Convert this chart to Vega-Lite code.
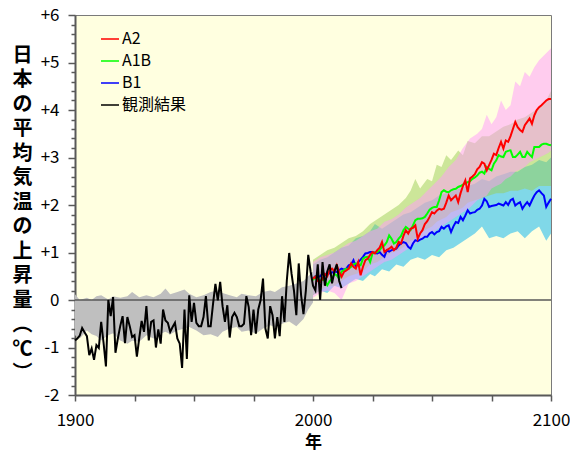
{
  "$schema": "https://vega.github.io/schema/vega-lite/v6.json",
  "width": 476,
  "height": 380,
  "autosize": "none",
  "padding": {"left": 75, "top": 15, "right": 19, "bottom": 59},
  "background": "white",
  "resolve": {"axis": {"y": "independent"}},
  "config": {
    "view": {"fill": "#ffffe0", "stroke": "#7a7a7a", "strokeWidth": 1},
    "axis": {"grid": false, "labelOverlap": false, "labelFlush": false, "domainColor": "#595959", "domainWidth": 2, "tickColor": "#595959", "tickWidth": 1.5, "labelColor": "#000000", "labelFont": "Noto Sans CJK JP", "labelFontSize": 17, "titleColor": "#000000", "titleFont": "Noto Sans CJK JP"}
  },
  "datasets": {
    "gray": [
      {"year": 1900, "lo": -0.74, "hi": 0.12}, {"year": 1902, "lo": -0.81, "hi": 0.0}, {"year": 1905, "lo": -0.64, "hi": 0.05},
      {"year": 1907, "lo": -0.72, "hi": 0.0}, {"year": 1909, "lo": -0.76, "hi": 0.08}, {"year": 1911, "lo": -0.85, "hi": 0.1},
      {"year": 1914, "lo": -0.74, "hi": 0.01}, {"year": 1916, "lo": -0.7, "hi": 0.08}, {"year": 1919, "lo": -0.85, "hi": 0.05},
      {"year": 1922, "lo": -0.92, "hi": 0.08}, {"year": 1924, "lo": -0.86, "hi": 0.17}, {"year": 1927, "lo": -0.88, "hi": 0.06},
      {"year": 1930, "lo": -0.74, "hi": 0.1}, {"year": 1933, "lo": -0.81, "hi": 0.06}, {"year": 1936, "lo": -0.71, "hi": 0.13},
      {"year": 1938, "lo": -0.67, "hi": 0.24}, {"year": 1940, "lo": -0.72, "hi": 0.12}, {"year": 1943, "lo": -0.64, "hi": 0.17},
      {"year": 1946, "lo": -0.6, "hi": 0.22}, {"year": 1948, "lo": -0.57, "hi": 0.13}, {"year": 1951, "lo": -0.64, "hi": 0.06},
      {"year": 1954, "lo": -0.74, "hi": 0.1}, {"year": 1957, "lo": -0.72, "hi": 0.17}, {"year": 1960, "lo": -0.78, "hi": 0.2},
      {"year": 1962, "lo": -0.67, "hi": 0.15}, {"year": 1965, "lo": -0.6, "hi": 0.1}, {"year": 1968, "lo": -0.57, "hi": 0.06},
      {"year": 1970, "lo": -0.67, "hi": 0.13}, {"year": 1973, "lo": -0.64, "hi": 0.1}, {"year": 1976, "lo": -0.71, "hi": 0.08},
      {"year": 1979, "lo": -0.6, "hi": 0.17}, {"year": 1982, "lo": -0.53, "hi": 0.2}, {"year": 1984, "lo": -0.57, "hi": 0.17},
      {"year": 1987, "lo": -0.5, "hi": 0.27}, {"year": 1990, "lo": -0.45, "hi": 0.3}, {"year": 1993, "lo": -0.55, "hi": 0.35},
      {"year": 1996, "lo": -0.4, "hi": 0.4}, {"year": 1998, "lo": -0.2, "hi": 0.5}, {"year": 2000, "lo": -0.05, "hi": 0.6}
    ],
    "bands": [
      {"s": "B1", "year": 2000, "lo": 0.1, "hi": 0.75}, {"s": "B1", "year": 2003, "lo": 0.2, "hi": 0.85}, {"s": "B1", "year": 2006, "lo": 0.15, "hi": 0.9},
      {"s": "B1", "year": 2009, "lo": 0.3, "hi": 1.0}, {"s": "B1", "year": 2012, "lo": 0.25, "hi": 1.1}, {"s": "B1", "year": 2015, "lo": 0.35, "hi": 1.15},
      {"s": "B1", "year": 2018, "lo": 0.45, "hi": 1.3}, {"s": "B1", "year": 2021, "lo": 0.4, "hi": 1.35}, {"s": "B1", "year": 2024, "lo": 0.55, "hi": 1.45},
      {"s": "B1", "year": 2026, "lo": 0.5, "hi": 1.6}, {"s": "B1", "year": 2029, "lo": 0.65, "hi": 1.5}, {"s": "B1", "year": 2032, "lo": 0.6, "hi": 1.6},
      {"s": "B1", "year": 2035, "lo": 0.75, "hi": 1.7}, {"s": "B1", "year": 2038, "lo": 0.7, "hi": 1.8}, {"s": "B1", "year": 2041, "lo": 0.85, "hi": 1.85},
      {"s": "B1", "year": 2044, "lo": 0.9, "hi": 1.95}, {"s": "B1", "year": 2047, "lo": 0.85, "hi": 2.05}, {"s": "B1", "year": 2050, "lo": 0.95, "hi": 2.1},
      {"s": "B1", "year": 2053, "lo": 0.9, "hi": 2.2}, {"s": "B1", "year": 2056, "lo": 1.05, "hi": 2.25}, {"s": "B1", "year": 2059, "lo": 1.1, "hi": 2.3},
      {"s": "B1", "year": 2062, "lo": 1.2, "hi": 2.35}, {"s": "B1", "year": 2065, "lo": 1.3, "hi": 2.4}, {"s": "B1", "year": 2068, "lo": 1.4, "hi": 2.45},
      {"s": "B1", "year": 2071, "lo": 1.55, "hi": 2.55}, {"s": "B1", "year": 2074, "lo": 1.3, "hi": 2.5}, {"s": "B1", "year": 2077, "lo": 1.35, "hi": 2.6},
      {"s": "B1", "year": 2080, "lo": 1.3, "hi": 2.65}, {"s": "B1", "year": 2083, "lo": 1.4, "hi": 2.7}, {"s": "B1", "year": 2086, "lo": 1.45, "hi": 2.7},
      {"s": "B1", "year": 2089, "lo": 1.3, "hi": 2.8}, {"s": "B1", "year": 2092, "lo": 1.45, "hi": 2.85}, {"s": "B1", "year": 2095, "lo": 1.55, "hi": 2.95},
      {"s": "B1", "year": 2098, "lo": 1.25, "hi": 2.9}, {"s": "B1", "year": 2100, "lo": 1.4, "hi": 3.0},
      {"s": "A1B", "year": 2000, "lo": 0.1, "hi": 0.85}, {"s": "A1B", "year": 2003, "lo": 0.2, "hi": 0.95}, {"s": "A1B", "year": 2006, "lo": 0.3, "hi": 1.05},
      {"s": "A1B", "year": 2009, "lo": 0.3, "hi": 1.1}, {"s": "A1B", "year": 2012, "lo": 0.4, "hi": 1.2}, {"s": "A1B", "year": 2015, "lo": 0.5, "hi": 1.3},
      {"s": "A1B", "year": 2018, "lo": 0.55, "hi": 1.35}, {"s": "A1B", "year": 2021, "lo": 0.6, "hi": 1.45}, {"s": "A1B", "year": 2024, "lo": 0.75, "hi": 1.6},
      {"s": "A1B", "year": 2027, "lo": 0.8, "hi": 1.7}, {"s": "A1B", "year": 2030, "lo": 0.9, "hi": 1.8}, {"s": "A1B", "year": 2033, "lo": 1.0, "hi": 1.9},
      {"s": "A1B", "year": 2036, "lo": 1.05, "hi": 2.0}, {"s": "A1B", "year": 2039, "lo": 1.15, "hi": 2.15}, {"s": "A1B", "year": 2041, "lo": 1.25, "hi": 2.3},
      {"s": "A1B", "year": 2043, "lo": 1.3, "hi": 2.55}, {"s": "A1B", "year": 2045, "lo": 1.4, "hi": 2.35}, {"s": "A1B", "year": 2048, "lo": 1.5, "hi": 2.55},
      {"s": "A1B", "year": 2050, "lo": 1.55, "hi": 2.5}, {"s": "A1B", "year": 2052, "lo": 1.65, "hi": 2.85}, {"s": "A1B", "year": 2054, "lo": 1.7, "hi": 2.8},
      {"s": "A1B", "year": 2056, "lo": 1.75, "hi": 3.05}, {"s": "A1B", "year": 2058, "lo": 1.85, "hi": 2.95}, {"s": "A1B", "year": 2061, "lo": 1.9, "hi": 3.15},
      {"s": "A1B", "year": 2063, "lo": 1.95, "hi": 3.05}, {"s": "A1B", "year": 2065, "lo": 2.05, "hi": 3.35}, {"s": "A1B", "year": 2068, "lo": 2.1, "hi": 3.3},
      {"s": "A1B", "year": 2071, "lo": 2.15, "hi": 3.45}, {"s": "A1B", "year": 2074, "lo": 2.2, "hi": 3.45}, {"s": "A1B", "year": 2077, "lo": 2.25, "hi": 3.55},
      {"s": "A1B", "year": 2080, "lo": 2.25, "hi": 3.65}, {"s": "A1B", "year": 2083, "lo": 2.3, "hi": 3.7}, {"s": "A1B", "year": 2086, "lo": 2.3, "hi": 3.8},
      {"s": "A1B", "year": 2089, "lo": 2.35, "hi": 3.85}, {"s": "A1B", "year": 2092, "lo": 2.3, "hi": 3.95}, {"s": "A1B", "year": 2095, "lo": 2.4, "hi": 4.05},
      {"s": "A1B", "year": 2098, "lo": 2.4, "hi": 4.2}, {"s": "A1B", "year": 2100, "lo": 2.4, "hi": 4.4},
      {"s": "A2", "year": 2000, "lo": 0.05, "hi": 0.8}, {"s": "A2", "year": 2003, "lo": 0.15, "hi": 0.9}, {"s": "A2", "year": 2006, "lo": 0.2, "hi": 0.95},
      {"s": "A2", "year": 2009, "lo": 0.15, "hi": 1.0}, {"s": "A2", "year": 2012, "lo": 0.0, "hi": 1.1}, {"s": "A2", "year": 2015, "lo": 0.35, "hi": 1.2},
      {"s": "A2", "year": 2018, "lo": 0.4, "hi": 1.25}, {"s": "A2", "year": 2021, "lo": 0.5, "hi": 1.35}, {"s": "A2", "year": 2024, "lo": 0.6, "hi": 1.45},
      {"s": "A2", "year": 2027, "lo": 0.7, "hi": 1.5}, {"s": "A2", "year": 2030, "lo": 0.8, "hi": 1.65}, {"s": "A2", "year": 2033, "lo": 0.85, "hi": 1.7},
      {"s": "A2", "year": 2036, "lo": 0.95, "hi": 1.8}, {"s": "A2", "year": 2039, "lo": 1.05, "hi": 1.95}, {"s": "A2", "year": 2042, "lo": 1.15, "hi": 2.05},
      {"s": "A2", "year": 2045, "lo": 1.25, "hi": 2.15}, {"s": "A2", "year": 2048, "lo": 1.35, "hi": 2.3}, {"s": "A2", "year": 2051, "lo": 1.45, "hi": 2.45},
      {"s": "A2", "year": 2054, "lo": 1.55, "hi": 2.6}, {"s": "A2", "year": 2057, "lo": 1.65, "hi": 2.8}, {"s": "A2", "year": 2060, "lo": 1.75, "hi": 2.95},
      {"s": "A2", "year": 2063, "lo": 1.85, "hi": 3.2}, {"s": "A2", "year": 2066, "lo": 1.95, "hi": 3.4}, {"s": "A2", "year": 2069, "lo": 2.1, "hi": 3.5},
      {"s": "A2", "year": 2071, "lo": 2.15, "hi": 3.6}, {"s": "A2", "year": 2073, "lo": 2.2, "hi": 3.9}, {"s": "A2", "year": 2075, "lo": 2.35, "hi": 3.7},
      {"s": "A2", "year": 2077, "lo": 2.4, "hi": 3.85}, {"s": "A2", "year": 2079, "lo": 2.45, "hi": 4.2}, {"s": "A2", "year": 2081, "lo": 2.55, "hi": 4.0},
      {"s": "A2", "year": 2083, "lo": 2.6, "hi": 4.1}, {"s": "A2", "year": 2085, "lo": 2.7, "hi": 4.6}, {"s": "A2", "year": 2087, "lo": 2.75, "hi": 4.5},
      {"s": "A2", "year": 2089, "lo": 2.8, "hi": 4.8}, {"s": "A2", "year": 2091, "lo": 2.9, "hi": 4.7}, {"s": "A2", "year": 2093, "lo": 2.95, "hi": 4.9},
      {"s": "A2", "year": 2095, "lo": 3.0, "hi": 5.05}, {"s": "A2", "year": 2097, "lo": 3.05, "hi": 5.15}, {"s": "A2", "year": 2099, "lo": 3.1, "hi": 5.25},
      {"s": "A2", "year": 2100, "lo": 3.15, "hi": 5.3}
    ],
    "lines": [
      {"s": "観測結果", "year": 1900, "v": -0.85}, {"s": "観測結果", "year": 1901, "v": -0.81}, {"s": "観測結果", "year": 1902, "v": -0.75}, {"s": "観測結果", "year": 1903, "v": -0.59},
      {"s": "観測結果", "year": 1904, "v": -0.68}, {"s": "観測結果", "year": 1905, "v": -0.76}, {"s": "観測結果", "year": 1906, "v": -1.16}, {"s": "観測結果", "year": 1907, "v": -1.02},
      {"s": "観測結果", "year": 1908, "v": -1.26}, {"s": "観測結果", "year": 1909, "v": -0.95}, {"s": "観測結果", "year": 1910, "v": -1.01}, {"s": "観測結果", "year": 1911, "v": -0.46},
      {"s": "観測結果", "year": 1912, "v": -0.9}, {"s": "観測結果", "year": 1913, "v": -1.4}, {"s": "観測結果", "year": 1914, "v": 0.0}, {"s": "観測結果", "year": 1915, "v": -0.34},
      {"s": "観測結果", "year": 1916, "v": 0.06}, {"s": "観測結果", "year": 1917, "v": -1.11}, {"s": "観測結果", "year": 1918, "v": -0.81}, {"s": "観測結果", "year": 1919, "v": -0.55},
      {"s": "観測結果", "year": 1920, "v": -0.34}, {"s": "観測結果", "year": 1921, "v": -0.91}, {"s": "観測結果", "year": 1922, "v": -0.36}, {"s": "観測結果", "year": 1923, "v": -0.55},
      {"s": "観測結果", "year": 1924, "v": -0.78}, {"s": "観測結果", "year": 1925, "v": -0.74}, {"s": "観測結果", "year": 1926, "v": -1.19}, {"s": "観測結果", "year": 1927, "v": -0.8},
      {"s": "観測結果", "year": 1928, "v": -0.44}, {"s": "観測結果", "year": 1929, "v": -0.67}, {"s": "観測結果", "year": 1930, "v": -0.13}, {"s": "観測結果", "year": 1931, "v": -0.85},
      {"s": "観測結果", "year": 1932, "v": -0.46}, {"s": "観測結果", "year": 1933, "v": -0.43}, {"s": "観測結果", "year": 1934, "v": -1.0}, {"s": "観測結果", "year": 1935, "v": -0.62},
      {"s": "観測結果", "year": 1936, "v": -0.92}, {"s": "観測結果", "year": 1937, "v": -0.2}, {"s": "観測結果", "year": 1938, "v": -0.43}, {"s": "観測結果", "year": 1939, "v": -0.48},
      {"s": "観測結果", "year": 1940, "v": -0.67}, {"s": "観測結果", "year": 1941, "v": -0.57}, {"s": "観測結果", "year": 1942, "v": -0.48}, {"s": "観測結果", "year": 1943, "v": -0.81},
      {"s": "観測結果", "year": 1944, "v": -0.92}, {"s": "観測結果", "year": 1945, "v": -1.43}, {"s": "観測結果", "year": 1946, "v": -0.2}, {"s": "観測結果", "year": 1947, "v": -1.24},
      {"s": "観測結果", "year": 1948, "v": 0.1}, {"s": "観測結果", "year": 1949, "v": -0.46}, {"s": "観測結果", "year": 1950, "v": -0.06}, {"s": "観測結果", "year": 1951, "v": -0.48},
      {"s": "観測結果", "year": 1952, "v": -0.55}, {"s": "観測結果", "year": 1953, "v": -0.55}, {"s": "観測結果", "year": 1954, "v": -0.36}, {"s": "観測結果", "year": 1955, "v": 0.08},
      {"s": "観測結果", "year": 1956, "v": -0.55}, {"s": "観測結果", "year": 1957, "v": -0.55}, {"s": "観測結果", "year": 1958, "v": -0.08}, {"s": "観測結果", "year": 1959, "v": 0.34},
      {"s": "観測結果", "year": 1960, "v": -0.01}, {"s": "観測結果", "year": 1961, "v": 0.38}, {"s": "観測結果", "year": 1962, "v": -0.13}, {"s": "観測結果", "year": 1963, "v": -0.46},
      {"s": "観測結果", "year": 1964, "v": -0.11}, {"s": "観測結果", "year": 1965, "v": -0.79}, {"s": "観測結果", "year": 1966, "v": -0.36}, {"s": "観測結果", "year": 1967, "v": -0.27},
      {"s": "観測結果", "year": 1968, "v": -0.36}, {"s": "観測結果", "year": 1969, "v": -0.55}, {"s": "観測結果", "year": 1970, "v": -0.55}, {"s": "観測結果", "year": 1971, "v": -0.5},
      {"s": "観測結果", "year": 1972, "v": 0.08}, {"s": "観測結果", "year": 1973, "v": -0.15}, {"s": "観測結果", "year": 1974, "v": -0.74}, {"s": "観測結果", "year": 1975, "v": -0.2},
      {"s": "観測結果", "year": 1976, "v": -0.71}, {"s": "観測結果", "year": 1977, "v": -0.2}, {"s": "観測結果", "year": 1978, "v": 0.0}, {"s": "観測結果", "year": 1979, "v": 0.45},
      {"s": "観測結果", "year": 1980, "v": -0.6}, {"s": "観測結果", "year": 1981, "v": -0.81}, {"s": "観測結果", "year": 1982, "v": -0.13}, {"s": "観測結果", "year": 1983, "v": -0.32},
      {"s": "観測結果", "year": 1984, "v": -0.81}, {"s": "観測結果", "year": 1985, "v": -0.36}, {"s": "観測結果", "year": 1986, "v": -0.76}, {"s": "観測結果", "year": 1987, "v": 0.08},
      {"s": "観測結果", "year": 1988, "v": -0.46}, {"s": "観測結果", "year": 1989, "v": 0.41}, {"s": "観測結果", "year": 1990, "v": 0.99}, {"s": "観測結果", "year": 1991, "v": 0.55},
      {"s": "観測結果", "year": 1992, "v": 0.2}, {"s": "観測結果", "year": 1993, "v": -0.32}, {"s": "観測結果", "year": 1994, "v": 0.77}, {"s": "観測結果", "year": 1995, "v": 0.1},
      {"s": "観測結果", "year": 1996, "v": -0.3}, {"s": "観測結果", "year": 1997, "v": 0.2}, {"s": "観測結果", "year": 1998, "v": 0.95}, {"s": "観測結果", "year": 1999, "v": 0.6},
      {"s": "観測結果", "year": 2000, "v": 0.3}, {"s": "観測結果", "year": 2001, "v": 0.2}, {"s": "観測結果", "year": 2002, "v": 0.75}, {"s": "観測結果", "year": 2003, "v": 0.0},
      {"s": "観測結果", "year": 2004, "v": 0.8}, {"s": "観測結果", "year": 2005, "v": 0.3}, {"s": "観測結果", "year": 2006, "v": 0.6}, {"s": "観測結果", "year": 2007, "v": 0.75},
      {"s": "観測結果", "year": 2008, "v": 0.35}, {"s": "観測結果", "year": 2009, "v": 0.6}, {"s": "観測結果", "year": 2010, "v": 0.75}, {"s": "観測結果", "year": 2011, "v": 0.4},
      {"s": "観測結果", "year": 2012, "v": 0.25},
      {"s": "A2", "year": 2000, "v": 0.45}, {"s": "A2", "year": 2001, "v": 0.49}, {"s": "A2", "year": 2002, "v": 0.4}, {"s": "A2", "year": 2003, "v": 0.38},
      {"s": "A2", "year": 2004, "v": 0.45}, {"s": "A2", "year": 2005, "v": 0.55}, {"s": "A2", "year": 2006, "v": 0.5}, {"s": "A2", "year": 2007, "v": 0.63},
      {"s": "A2", "year": 2008, "v": 0.66}, {"s": "A2", "year": 2009, "v": 0.6}, {"s": "A2", "year": 2010, "v": 0.73}, {"s": "A2", "year": 2011, "v": 0.59},
      {"s": "A2", "year": 2012, "v": 0.49}, {"s": "A2", "year": 2013, "v": 0.59}, {"s": "A2", "year": 2014, "v": 0.62}, {"s": "A2", "year": 2015, "v": 0.66},
      {"s": "A2", "year": 2016, "v": 0.77}, {"s": "A2", "year": 2017, "v": 0.7}, {"s": "A2", "year": 2018, "v": 0.66}, {"s": "A2", "year": 2019, "v": 0.8},
      {"s": "A2", "year": 2020, "v": 0.52}, {"s": "A2", "year": 2021, "v": 0.7}, {"s": "A2", "year": 2022, "v": 0.84}, {"s": "A2", "year": 2023, "v": 0.87},
      {"s": "A2", "year": 2024, "v": 0.95}, {"s": "A2", "year": 2025, "v": 1.01}, {"s": "A2", "year": 2026, "v": 0.98}, {"s": "A2", "year": 2027, "v": 1.05},
      {"s": "A2", "year": 2028, "v": 1.1}, {"s": "A2", "year": 2029, "v": 1.22}, {"s": "A2", "year": 2030, "v": 1.01}, {"s": "A2", "year": 2031, "v": 1.05},
      {"s": "A2", "year": 2032, "v": 1.08}, {"s": "A2", "year": 2033, "v": 1.12}, {"s": "A2", "year": 2034, "v": 1.05}, {"s": "A2", "year": 2035, "v": 1.1},
      {"s": "A2", "year": 2036, "v": 1.22}, {"s": "A2", "year": 2037, "v": 1.19}, {"s": "A2", "year": 2038, "v": 1.35}, {"s": "A2", "year": 2039, "v": 1.47},
      {"s": "A2", "year": 2040, "v": 1.4}, {"s": "A2", "year": 2041, "v": 1.5}, {"s": "A2", "year": 2042, "v": 1.52}, {"s": "A2", "year": 2043, "v": 1.57},
      {"s": "A2", "year": 2044, "v": 1.29}, {"s": "A2", "year": 2045, "v": 1.4}, {"s": "A2", "year": 2046, "v": 1.47}, {"s": "A2", "year": 2047, "v": 1.6},
      {"s": "A2", "year": 2048, "v": 1.66}, {"s": "A2", "year": 2049, "v": 1.75}, {"s": "A2", "year": 2050, "v": 1.85}, {"s": "A2", "year": 2051, "v": 1.82},
      {"s": "A2", "year": 2052, "v": 1.88}, {"s": "A2", "year": 2053, "v": 1.92}, {"s": "A2", "year": 2054, "v": 1.9}, {"s": "A2", "year": 2055, "v": 1.92},
      {"s": "A2", "year": 2056, "v": 2.05}, {"s": "A2", "year": 2057, "v": 2.2}, {"s": "A2", "year": 2058, "v": 2.1}, {"s": "A2", "year": 2059, "v": 2.15},
      {"s": "A2", "year": 2060, "v": 2.2}, {"s": "A2", "year": 2061, "v": 2.06}, {"s": "A2", "year": 2062, "v": 2.25}, {"s": "A2", "year": 2063, "v": 2.4},
      {"s": "A2", "year": 2064, "v": 2.52}, {"s": "A2", "year": 2065, "v": 2.27}, {"s": "A2", "year": 2066, "v": 2.56}, {"s": "A2", "year": 2067, "v": 2.6},
      {"s": "A2", "year": 2068, "v": 2.65}, {"s": "A2", "year": 2069, "v": 2.75}, {"s": "A2", "year": 2070, "v": 2.8}, {"s": "A2", "year": 2071, "v": 2.9},
      {"s": "A2", "year": 2072, "v": 2.87}, {"s": "A2", "year": 2073, "v": 2.73}, {"s": "A2", "year": 2074, "v": 2.84}, {"s": "A2", "year": 2075, "v": 2.95},
      {"s": "A2", "year": 2076, "v": 3.08}, {"s": "A2", "year": 2077, "v": 3.05}, {"s": "A2", "year": 2078, "v": 3.2}, {"s": "A2", "year": 2079, "v": 3.33},
      {"s": "A2", "year": 2080, "v": 3.19}, {"s": "A2", "year": 2081, "v": 3.36}, {"s": "A2", "year": 2082, "v": 3.33}, {"s": "A2", "year": 2083, "v": 3.45},
      {"s": "A2", "year": 2084, "v": 3.6}, {"s": "A2", "year": 2085, "v": 3.75}, {"s": "A2", "year": 2086, "v": 3.64}, {"s": "A2", "year": 2087, "v": 3.58},
      {"s": "A2", "year": 2088, "v": 3.54}, {"s": "A2", "year": 2089, "v": 3.68}, {"s": "A2", "year": 2090, "v": 3.75}, {"s": "A2", "year": 2091, "v": 3.82},
      {"s": "A2", "year": 2092, "v": 3.71}, {"s": "A2", "year": 2093, "v": 3.89}, {"s": "A2", "year": 2094, "v": 4.0}, {"s": "A2", "year": 2095, "v": 4.06},
      {"s": "A2", "year": 2096, "v": 4.1}, {"s": "A2", "year": 2097, "v": 4.15}, {"s": "A2", "year": 2098, "v": 4.2}, {"s": "A2", "year": 2099, "v": 4.23},
      {"s": "A2", "year": 2100, "v": 4.23},
      {"s": "A1B", "year": 2000, "v": 0.42}, {"s": "A1B", "year": 2001, "v": 0.49}, {"s": "A1B", "year": 2002, "v": 0.45}, {"s": "A1B", "year": 2003, "v": 0.38},
      {"s": "A1B", "year": 2004, "v": 0.45}, {"s": "A1B", "year": 2005, "v": 0.4}, {"s": "A1B", "year": 2006, "v": 0.31}, {"s": "A1B", "year": 2007, "v": 0.4},
      {"s": "A1B", "year": 2008, "v": 0.45}, {"s": "A1B", "year": 2009, "v": 0.55}, {"s": "A1B", "year": 2010, "v": 0.52}, {"s": "A1B", "year": 2011, "v": 0.45},
      {"s": "A1B", "year": 2012, "v": 0.6}, {"s": "A1B", "year": 2013, "v": 0.63}, {"s": "A1B", "year": 2014, "v": 0.66}, {"s": "A1B", "year": 2015, "v": 0.66},
      {"s": "A1B", "year": 2016, "v": 0.7}, {"s": "A1B", "year": 2017, "v": 0.75}, {"s": "A1B", "year": 2018, "v": 0.77}, {"s": "A1B", "year": 2019, "v": 0.74},
      {"s": "A1B", "year": 2020, "v": 0.73}, {"s": "A1B", "year": 2021, "v": 0.87}, {"s": "A1B", "year": 2022, "v": 0.9}, {"s": "A1B", "year": 2023, "v": 0.91},
      {"s": "A1B", "year": 2024, "v": 0.8}, {"s": "A1B", "year": 2025, "v": 0.98}, {"s": "A1B", "year": 2026, "v": 1.0}, {"s": "A1B", "year": 2027, "v": 1.01},
      {"s": "A1B", "year": 2028, "v": 1.05}, {"s": "A1B", "year": 2029, "v": 1.12}, {"s": "A1B", "year": 2030, "v": 1.15}, {"s": "A1B", "year": 2031, "v": 1.22},
      {"s": "A1B", "year": 2032, "v": 1.36}, {"s": "A1B", "year": 2033, "v": 1.29}, {"s": "A1B", "year": 2034, "v": 1.19}, {"s": "A1B", "year": 2035, "v": 1.22},
      {"s": "A1B", "year": 2036, "v": 1.29}, {"s": "A1B", "year": 2037, "v": 1.35}, {"s": "A1B", "year": 2038, "v": 1.47}, {"s": "A1B", "year": 2039, "v": 1.54},
      {"s": "A1B", "year": 2040, "v": 1.5}, {"s": "A1B", "year": 2041, "v": 1.47}, {"s": "A1B", "year": 2042, "v": 1.57}, {"s": "A1B", "year": 2043, "v": 1.68},
      {"s": "A1B", "year": 2044, "v": 1.71}, {"s": "A1B", "year": 2045, "v": 1.71}, {"s": "A1B", "year": 2046, "v": 1.72}, {"s": "A1B", "year": 2047, "v": 1.75},
      {"s": "A1B", "year": 2048, "v": 1.82}, {"s": "A1B", "year": 2049, "v": 1.9}, {"s": "A1B", "year": 2050, "v": 1.94}, {"s": "A1B", "year": 2051, "v": 1.96},
      {"s": "A1B", "year": 2052, "v": 1.96}, {"s": "A1B", "year": 2053, "v": 2.1}, {"s": "A1B", "year": 2054, "v": 2.27}, {"s": "A1B", "year": 2055, "v": 2.31},
      {"s": "A1B", "year": 2056, "v": 2.28}, {"s": "A1B", "year": 2057, "v": 2.27}, {"s": "A1B", "year": 2058, "v": 2.31}, {"s": "A1B", "year": 2059, "v": 2.33},
      {"s": "A1B", "year": 2060, "v": 2.34}, {"s": "A1B", "year": 2061, "v": 2.38}, {"s": "A1B", "year": 2062, "v": 2.4}, {"s": "A1B", "year": 2063, "v": 2.43},
      {"s": "A1B", "year": 2064, "v": 2.46}, {"s": "A1B", "year": 2065, "v": 2.48}, {"s": "A1B", "year": 2066, "v": 2.5}, {"s": "A1B", "year": 2067, "v": 2.55},
      {"s": "A1B", "year": 2068, "v": 2.58}, {"s": "A1B", "year": 2069, "v": 2.62}, {"s": "A1B", "year": 2070, "v": 2.68}, {"s": "A1B", "year": 2071, "v": 2.7},
      {"s": "A1B", "year": 2072, "v": 2.66}, {"s": "A1B", "year": 2073, "v": 2.8}, {"s": "A1B", "year": 2074, "v": 2.76}, {"s": "A1B", "year": 2075, "v": 2.73},
      {"s": "A1B", "year": 2076, "v": 2.87}, {"s": "A1B", "year": 2077, "v": 2.94}, {"s": "A1B", "year": 2078, "v": 3.05}, {"s": "A1B", "year": 2079, "v": 3.02},
      {"s": "A1B", "year": 2080, "v": 3.01}, {"s": "A1B", "year": 2081, "v": 3.12}, {"s": "A1B", "year": 2082, "v": 3.14}, {"s": "A1B", "year": 2083, "v": 3.15},
      {"s": "A1B", "year": 2084, "v": 3.01}, {"s": "A1B", "year": 2085, "v": 3.01}, {"s": "A1B", "year": 2086, "v": 3.06}, {"s": "A1B", "year": 2087, "v": 3.12},
      {"s": "A1B", "year": 2088, "v": 3.01}, {"s": "A1B", "year": 2089, "v": 3.01}, {"s": "A1B", "year": 2090, "v": 3.12}, {"s": "A1B", "year": 2091, "v": 3.06},
      {"s": "A1B", "year": 2092, "v": 3.01}, {"s": "A1B", "year": 2093, "v": 3.22}, {"s": "A1B", "year": 2094, "v": 3.22}, {"s": "A1B", "year": 2095, "v": 3.22},
      {"s": "A1B", "year": 2096, "v": 3.27}, {"s": "A1B", "year": 2097, "v": 3.29}, {"s": "A1B", "year": 2098, "v": 3.29}, {"s": "A1B", "year": 2099, "v": 3.27},
      {"s": "A1B", "year": 2100, "v": 3.26},
      {"s": "B1", "year": 2000, "v": 0.45}, {"s": "B1", "year": 2001, "v": 0.5}, {"s": "B1", "year": 2002, "v": 0.48}, {"s": "B1", "year": 2003, "v": 0.5},
      {"s": "B1", "year": 2004, "v": 0.55}, {"s": "B1", "year": 2005, "v": 0.52}, {"s": "B1", "year": 2006, "v": 0.58}, {"s": "B1", "year": 2007, "v": 0.56},
      {"s": "B1", "year": 2008, "v": 0.58}, {"s": "B1", "year": 2009, "v": 0.6}, {"s": "B1", "year": 2010, "v": 0.59}, {"s": "B1", "year": 2011, "v": 0.63},
      {"s": "B1", "year": 2012, "v": 0.66}, {"s": "B1", "year": 2013, "v": 0.64}, {"s": "B1", "year": 2014, "v": 0.66}, {"s": "B1", "year": 2015, "v": 0.73},
      {"s": "B1", "year": 2016, "v": 0.75}, {"s": "B1", "year": 2017, "v": 0.84}, {"s": "B1", "year": 2018, "v": 0.7}, {"s": "B1", "year": 2019, "v": 0.8},
      {"s": "B1", "year": 2020, "v": 0.85}, {"s": "B1", "year": 2021, "v": 0.91}, {"s": "B1", "year": 2022, "v": 0.98}, {"s": "B1", "year": 2023, "v": 0.99},
      {"s": "B1", "year": 2024, "v": 1.01}, {"s": "B1", "year": 2025, "v": 1.01}, {"s": "B1", "year": 2026, "v": 0.99}, {"s": "B1", "year": 2027, "v": 0.98},
      {"s": "B1", "year": 2028, "v": 1.01}, {"s": "B1", "year": 2029, "v": 0.95}, {"s": "B1", "year": 2030, "v": 0.91}, {"s": "B1", "year": 2031, "v": 1.05},
      {"s": "B1", "year": 2032, "v": 1.02}, {"s": "B1", "year": 2033, "v": 1.05}, {"s": "B1", "year": 2034, "v": 1.06}, {"s": "B1", "year": 2035, "v": 1.08},
      {"s": "B1", "year": 2036, "v": 1.15}, {"s": "B1", "year": 2037, "v": 1.19}, {"s": "B1", "year": 2038, "v": 1.22}, {"s": "B1", "year": 2039, "v": 1.2},
      {"s": "B1", "year": 2040, "v": 1.12}, {"s": "B1", "year": 2041, "v": 1.08}, {"s": "B1", "year": 2042, "v": 1.19}, {"s": "B1", "year": 2043, "v": 1.26},
      {"s": "B1", "year": 2044, "v": 1.24}, {"s": "B1", "year": 2045, "v": 1.27}, {"s": "B1", "year": 2046, "v": 1.29}, {"s": "B1", "year": 2047, "v": 1.33},
      {"s": "B1", "year": 2048, "v": 1.33}, {"s": "B1", "year": 2049, "v": 1.4}, {"s": "B1", "year": 2050, "v": 1.43}, {"s": "B1", "year": 2051, "v": 1.38},
      {"s": "B1", "year": 2052, "v": 1.43}, {"s": "B1", "year": 2053, "v": 1.45}, {"s": "B1", "year": 2054, "v": 1.54}, {"s": "B1", "year": 2055, "v": 1.5},
      {"s": "B1", "year": 2056, "v": 1.55}, {"s": "B1", "year": 2057, "v": 1.57}, {"s": "B1", "year": 2058, "v": 1.43}, {"s": "B1", "year": 2059, "v": 1.55},
      {"s": "B1", "year": 2060, "v": 1.64}, {"s": "B1", "year": 2061, "v": 1.62}, {"s": "B1", "year": 2062, "v": 1.75}, {"s": "B1", "year": 2063, "v": 1.68},
      {"s": "B1", "year": 2064, "v": 1.78}, {"s": "B1", "year": 2065, "v": 1.89}, {"s": "B1", "year": 2066, "v": 1.82}, {"s": "B1", "year": 2067, "v": 1.84},
      {"s": "B1", "year": 2068, "v": 1.85}, {"s": "B1", "year": 2069, "v": 1.9}, {"s": "B1", "year": 2070, "v": 1.92}, {"s": "B1", "year": 2071, "v": 1.99},
      {"s": "B1", "year": 2072, "v": 2.13}, {"s": "B1", "year": 2073, "v": 2.08}, {"s": "B1", "year": 2074, "v": 1.96}, {"s": "B1", "year": 2075, "v": 1.98},
      {"s": "B1", "year": 2076, "v": 1.99}, {"s": "B1", "year": 2077, "v": 2.0}, {"s": "B1", "year": 2078, "v": 2.03}, {"s": "B1", "year": 2079, "v": 2.01},
      {"s": "B1", "year": 2080, "v": 1.99}, {"s": "B1", "year": 2081, "v": 2.06}, {"s": "B1", "year": 2082, "v": 2.0}, {"s": "B1", "year": 2083, "v": 2.1},
      {"s": "B1", "year": 2084, "v": 2.13}, {"s": "B1", "year": 2085, "v": 1.99}, {"s": "B1", "year": 2086, "v": 2.03}, {"s": "B1", "year": 2087, "v": 2.06},
      {"s": "B1", "year": 2088, "v": 1.92}, {"s": "B1", "year": 2089, "v": 2.0}, {"s": "B1", "year": 2090, "v": 2.06}, {"s": "B1", "year": 2091, "v": 1.99},
      {"s": "B1", "year": 2092, "v": 2.1}, {"s": "B1", "year": 2093, "v": 2.2}, {"s": "B1", "year": 2094, "v": 2.27}, {"s": "B1", "year": 2095, "v": 2.31},
      {"s": "B1", "year": 2096, "v": 2.25}, {"s": "B1", "year": 2097, "v": 2.2}, {"s": "B1", "year": 2098, "v": 1.96}, {"s": "B1", "year": 2099, "v": 2.05},
      {"s": "B1", "year": 2100, "v": 2.13}
    ]
  },
  "layer": [
    {
      "data": {"name": "gray"},
      "mark": {"type": "area", "color": "#bfbfbf", "opacity": 1},
      "encoding": {
        "x": {"field": "year", "type": "quantitative", "scale": {"domain": [1900, 2100], "nice": false, "zero": false},
          "axis": {"values": [1900, 1925, 1950, 1975, 2000, 2025, 2050, 2075, 2100], "labelExpr": "datum.value % 100 === 0 ? '' + datum.value : ''", "tickSize": 6, "labelPadding": 11, "labelOverlap": false, "title": "年", "titleFontSize": 17, "titleFontWeight": "bold", "titlePadding": 6}},
        "y": {"field": "lo", "type": "quantitative", "scale": {"domain": [-2, 6], "nice": false, "zero": false},
          "axis": {"orient": "left", "values": [-2, -1, 0, 1, 2, 3, 4, 5, 6],
            "labelExpr": "datum.value > 0 ? '+' + datum.value : '' + datum.value",
            "tickSize": 7, "labelPadding": 9, "labelOverlap": false,
            "title": ["日", "本", "の", "平", "均", "気", "温", "の", "上", "昇", "量", "︵", "℃", "︶"],
            "titleAngle": 0, "titleFontSize": 20, "titleFontWeight": "bold", "titleLineHeight": 24.5, "titleAlign": "center", "titleBaseline": "top", "titleX": -53, "titleY": 30}},
        "y2": {"field": "hi"}
      }
    },
    {
      "data": {"name": "bands"},
      "transform": [{"filter": "datum.s === 'B1'"}],
      "mark": {"type": "area", "color": "#01b1f0", "opacity": 0.5},
      "encoding": {"x": {"field": "year", "type": "quantitative"},
        "y": {"field": "lo", "type": "quantitative",
          "axis": {"orient": "left", "values": [-1.8, -1.6, -1.4, -1.2, -0.8, -0.6, -0.4, -0.2, 0.2, 0.4, 0.6, 0.8, 1.2, 1.4, 1.6, 1.8, 2.2, 2.4, 2.6, 2.8, 3.2, 3.4, 3.6, 3.8, 4.2, 4.4, 4.6, 4.8, 5.2, 5.4, 5.6, 5.8],
            "labels": false, "domain": false, "tickSize": 4, "title": null, "offset": 0}},
        "y2": {"field": "hi"}}
    },
    {
      "data": {"name": "bands"},
      "transform": [{"filter": "datum.s === 'A1B'"}],
      "mark": {"type": "area", "color": "#99cd52", "opacity": 0.5},
      "encoding": {"x": {"field": "year", "type": "quantitative"}, "y": {"field": "lo", "type": "quantitative", "axis": null}, "y2": {"field": "hi"}}
    },
    {
      "data": {"name": "bands"},
      "transform": [{"filter": "datum.s === 'A2'"}],
      "mark": {"type": "area", "color": "#ff99fc", "opacity": 0.5},
      "encoding": {"x": {"field": "year", "type": "quantitative"}, "y": {"field": "lo", "type": "quantitative", "axis": null}, "y2": {"field": "hi"}}
    },
    {
      "data": {"values": [{"z": 0}]},
      "mark": {"type": "rule", "color": "#595959", "strokeWidth": 1.5},
      "encoding": {"y": {"field": "z", "type": "quantitative", "axis": null}}
    },
    {
      "data": {"name": "lines"},
      "transform": [{"filter": "datum.s === 'B1'"}],
      "mark": {"type": "line", "strokeWidth": 2},
      "encoding": {
        "x": {"field": "year", "type": "quantitative"},
        "y": {"field": "v", "type": "quantitative", "axis": null},
        "color": {"field": "s", "type": "nominal", "scale": {"domain": ["A2", "A1B", "B1", "観測結果"], "range": ["#ff0000", "#00ff00", "#0000ff", "#000000"]},
          "legend": {"orient": "none", "legendX": 25, "legendY": 14, "title": null, "symbolType": "stroke", "symbolSize": 324, "symbolStrokeWidth": 1.5, "labelFont": "Noto Sans CJK JP", "labelFontSize": 16, "labelColor": "#000000", "rowPadding": 4, "padding": 0, "labelOffset": 2}}
      }
    },
    {
      "data": {"name": "lines"},
      "transform": [{"filter": "datum.s === 'A1B'"}],
      "mark": {"type": "line", "strokeWidth": 2},
      "encoding": {
        "x": {"field": "year", "type": "quantitative"},
        "y": {"field": "v", "type": "quantitative", "axis": null},
        "color": {"field": "s", "type": "nominal", "scale": {"domain": ["A2", "A1B", "B1", "観測結果"], "range": ["#ff0000", "#00ff00", "#0000ff", "#000000"]}}
      }
    },
    {
      "data": {"name": "lines"},
      "transform": [{"filter": "datum.s === 'A2'"}],
      "mark": {"type": "line", "strokeWidth": 2},
      "encoding": {
        "x": {"field": "year", "type": "quantitative"},
        "y": {"field": "v", "type": "quantitative", "axis": null},
        "color": {"field": "s", "type": "nominal", "scale": {"domain": ["A2", "A1B", "B1", "観測結果"], "range": ["#ff0000", "#00ff00", "#0000ff", "#000000"]}}
      }
    },
    {
      "data": {"name": "lines"},
      "transform": [{"filter": "datum.s === '観測結果'"}],
      "mark": {"type": "line", "strokeWidth": 2},
      "encoding": {
        "x": {"field": "year", "type": "quantitative"},
        "y": {"field": "v", "type": "quantitative", "axis": null},
        "color": {"field": "s", "type": "nominal", "scale": {"domain": ["A2", "A1B", "B1", "観測結果"], "range": ["#ff0000", "#00ff00", "#0000ff", "#000000"]}}
      }
    }
  ]
}
